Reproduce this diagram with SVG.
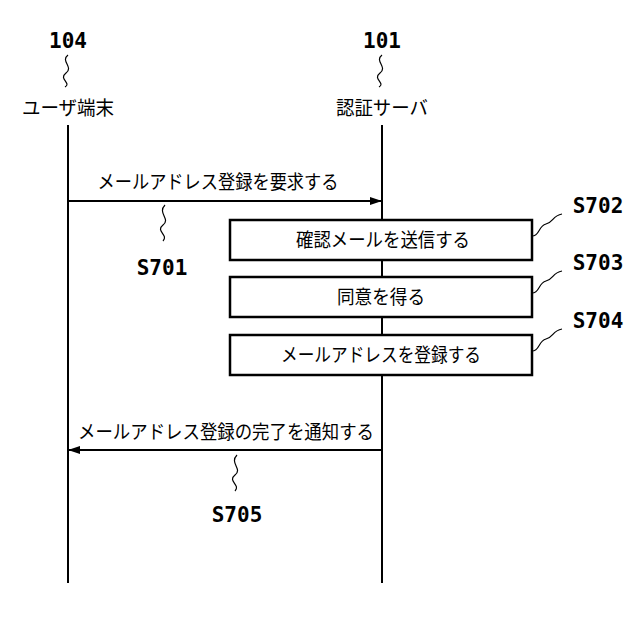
<svg xmlns="http://www.w3.org/2000/svg" width="640" height="618" viewBox="0 0 640 618">
<style>
.t{font-family:"Noto Sans CJK JP",sans-serif;font-size:19px;fill:#000;text-anchor:middle}
.n{font-family:"DejaVu Sans Mono",monospace;font-weight:bold;font-size:21px;fill:#000;text-anchor:middle}
.l{stroke:#000;stroke-width:2;fill:none}
.s{stroke:#000;stroke-width:1.2;fill:none}
.b{stroke:#000;stroke-width:2.5;fill:#fff}
</style>
<defs><marker id="a" markerWidth="12" markerHeight="8" refX="11" refY="4" orient="auto" markerUnits="userSpaceOnUse"><path d="M0,0L12,4L0,8z" fill="#000"/></marker></defs>
<rect width="640" height="618" fill="#fff"/>
<g id="user"><text class="n" x="68" y="48">104</text><path class="s" d="M68,55c-8,6 6,12 -2,18s6,10 -1,14"/><text class="t" x="68" y="115" textLength="92" lengthAdjust="spacingAndGlyphs">ユーザ端末</text><line class="l" x1="68" y1="125" x2="68" y2="583"/></g>
<g id="server"><text class="n" x="382" y="48">101</text><path class="s" d="M382,55c-8,6 6,12 -2,18s6,10 -1,14"/><text class="t" x="382" y="115" textLength="92" lengthAdjust="spacingAndGlyphs">認証サーバ</text><line class="l" x1="382" y1="125" x2="382" y2="583"/></g>
<g id="connectors">
<line class="l" x1="68" y1="201" x2="381" y2="201" marker-end="url(#a)"/>
<line class="l" x1="382" y1="450" x2="69" y2="450" marker-end="url(#a)"/>
</g>
<g id="m1"><text class="t" x="218" y="189" textLength="241" lengthAdjust="spacingAndGlyphs">メールアドレス登録を要求する</text><path class="s" d="M165,205c-8,8 6,14 -2,20s6,10 0,16"/><text class="n" x="162" y="275">S701</text></g>
<g id="s702"><rect class="b" x="230" y="220" width="302" height="40"/><text class="t" x="383" y="247" textLength="174" lengthAdjust="spacingAndGlyphs">確認メールを送信する</text><path class="s" d="M532,236c8,0 6,-10 14,-12s6,-8 16,-10"/><text class="n" x="598" y="213">S702</text></g>
<g id="s703"><rect class="b" x="230" y="277" width="302" height="40"/><text class="t" x="381" y="304" textLength="88" lengthAdjust="spacingAndGlyphs">同意を得る</text><path class="s" d="M532,293c8,0 6,-10 14,-12s6,-8 16,-10"/><text class="n" x="598" y="270">S703</text></g>
<g id="s704"><rect class="b" x="230" y="335" width="302" height="40"/><text class="t" x="381" y="362" textLength="200" lengthAdjust="spacingAndGlyphs">メールアドレスを登録する</text><path class="s" d="M532,351c8,0 6,-10 14,-12s6,-8 16,-10"/><text class="n" x="598" y="328">S704</text></g>
<g id="m5"><text class="t" x="226" y="439" textLength="296" lengthAdjust="spacingAndGlyphs">メールアドレス登録の完了を通知する</text><path class="s" d="M237,455c-8,8 6,14 -2,20s6,10 0,16"/><text class="n" x="237" y="522">S705</text></g>
</svg>
